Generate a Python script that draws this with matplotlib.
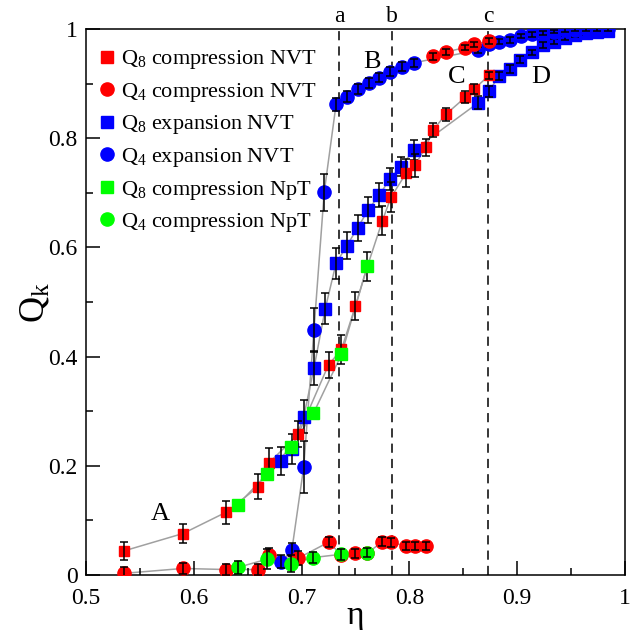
import matplotlib
matplotlib.use('Agg')
import matplotlib.pyplot as plt
from matplotlib.lines import Line2D
from matplotlib.ticker import MultipleLocator, FixedLocator

plt.rcParams['font.family'] = ['Liberation Serif', 'DejaVu Serif']
plt.rcParams['mathtext.fontset'] = 'custom'
plt.rcParams['mathtext.rm'] = 'Liberation Serif'
plt.rcParams['mathtext.it'] = 'Liberation Serif:italic'

# Q8 compression NVT (red squares)
red_sq_eta = [0.535, 0.59, 0.63, 0.66, 0.67, 0.697, 0.725, 0.737, 0.75, 0.761,
              0.775, 0.783, 0.797, 0.805, 0.815, 0.822, 0.834, 0.852, 0.86, 0.874]
red_sq_q   = [0.044, 0.076, 0.115, 0.162, 0.206, 0.258, 0.385, 0.413, 0.493, 0.565,
              0.649, 0.692, 0.736, 0.75, 0.783, 0.815, 0.844, 0.875, 0.89, 0.915]
red_sq_err = [0.016, 0.018, 0.021, 0.023, 0.027, 0.024, 0.024, 0.026, 0.026, 0.026,
              0.026, 0.028, 0.025, 0.021, 0.016, 0.013, 0.012, 0.011, 0.009, 0.007]

# Q4 compression NVT (red circles), low branch and high branch
red_ci_eta = [0.535, 0.59, 0.63, 0.66, 0.67, 0.697, 0.725, 0.737, 0.75, 0.761,
              0.775, 0.783, 0.797, 0.805, 0.815]
red_ci_q   = [0.003, 0.012, 0.010, 0.010, 0.037, 0.031, 0.060, 0.037, 0.040, 0.040,
              0.061, 0.060, 0.053, 0.053, 0.053]
red_ci_err = [0.012, 0.010, 0.010, 0.010, 0.012, 0.013, 0.009, 0.009, 0.008, 0.008,
              0.008, 0.008, 0.007, 0.007, 0.007]
red_hi_eta = [0.822, 0.834, 0.852, 0.86, 0.874]
red_hi_q   = [0.950, 0.958, 0.966, 0.972, 0.978]
red_hi_err = [0.006, 0.006, 0.005, 0.005, 0.005]

# Q8 expansion NVT (blue squares)
blue_sq_eta = [0.681, 0.691, 0.702, 0.7115, 0.722, 0.732, 0.742, 0.752, 0.762, 0.772,
               0.782, 0.792, 0.804, 0.864, 0.874, 0.883, 0.893, 0.903, 0.914, 0.924,
               0.934, 0.944, 0.954, 0.964, 0.974, 0.984]
blue_sq_q   = [0.209, 0.231, 0.290, 0.379, 0.488, 0.571, 0.603, 0.636, 0.669, 0.696,
               0.725, 0.748, 0.778, 0.865, 0.886, 0.914, 0.927, 0.944, 0.957, 0.971,
               0.977, 0.983, 0.989, 0.992, 0.994, 0.996]
blue_sq_err = [0.025, 0.028, 0.030, 0.031, 0.029, 0.028, 0.025, 0.024, 0.024, 0.022,
               0.020, 0.018, 0.018, 0.012, 0.010, 0.008, 0.007, 0.006, 0.005, 0.005,
               0.004, 0.004, 0.003, 0.003, 0.003, 0.003]

# Q4 expansion NVT (blue circles)
blue_ci_eta = [0.681, 0.691, 0.702, 0.7115, 0.721, 0.732, 0.742, 0.7525, 0.7625, 0.772,
               0.782, 0.793, 0.804, 0.864, 0.874, 0.8834, 0.893, 0.9035, 0.9134, 0.924,
               0.934, 0.944, 0.954, 0.964, 0.974, 0.984]
blue_ci_q   = [0.024, 0.046, 0.198, 0.449, 0.701, 0.862, 0.876, 0.890, 0.9005, 0.911,
               0.922, 0.931, 0.938, 0.9615, 0.972, 0.977, 0.980, 0.987, 0.990, 0.993,
               0.995, 0.998, 0.999, 1.0, 1.0, 1.0]
blue_ci_err = [0.012, 0.012, 0.047, 0.040, 0.034, 0.012, 0.010, 0.009, 0.009, 0.008,
               0.008, 0.008, 0.007, 0.006, 0.005, 0.005, 0.005, 0.004, 0.004, 0.004,
               0.003, 0.003, 0.003, 0.003, 0.003, 0.003]

# NpT compression (green)
green_eta    = [0.641, 0.668, 0.690, 0.711, 0.737, 0.761]
green_sq_q   = [0.129, 0.185, 0.235, 0.296, 0.404, 0.566]
green_ci_q   = [0.014, 0.029, 0.021, 0.032, 0.038, 0.041]
green_ci_err = [0.012, 0.018, 0.016, 0.010, 0.010, 0.008]

vlines_eta   = [0.735, 0.784, 0.873]
vline_labels = ['a', 'b', 'c']
region_labels = ['A', 'B', 'C', 'D']
region_eta    = [0.569, 0.765, 0.844, 0.922]
region_q      = [0.112, 0.94, 0.912, 0.912]

RED, BLUE, GREEN = '#ff0000', '#0000ff', '#00ff00'
LINE = '#a0a0a0'

fig = plt.figure(figsize=(6.3, 6.3), dpi=100)
ax = fig.add_axes([0.1365, 0.0873, 0.8555, 0.8667])

# connecting lines
for xs, ys in [(red_sq_eta, red_sq_q), (red_ci_eta, red_ci_q), (red_hi_eta, red_hi_q),
               (blue_sq_eta, blue_sq_q), (blue_ci_eta, blue_ci_q),
               (green_eta, green_sq_q), (green_eta, green_ci_q)]:
    ax.plot(xs, ys, color=LINE, lw=1.1, zorder=1)

for x in vlines_eta:
    ax.axvline(x, color='k', lw=1.1, ls=(0, (6, 4)), zorder=1.5)

series = [
    (blue_sq_eta, blue_sq_q, blue_sq_err, 's', BLUE, 8),
    (blue_ci_eta, blue_ci_q, blue_ci_err, 'o', BLUE, 9.5),
    (red_sq_eta, red_sq_q, red_sq_err, 's', RED, 7.5),
    (red_ci_eta, red_ci_q, red_ci_err, 'o', RED, 9.5),
    (red_hi_eta, red_hi_q, red_hi_err, 'o', RED, 9.5),
    (green_eta, green_sq_q, None, 's', GREEN, 8),
    (green_eta, green_ci_q, green_ci_err, 'o', GREEN, 9.5),
]
z = 2
for xs, ys, err, m, c, ms in series:
    ax.plot(xs, ys, ls='none', marker=m, ms=ms, mfc=c, mec=c, zorder=z)
    if err is not None:
        ax.errorbar(xs, ys, yerr=err, fmt='none', ecolor='k', elinewidth=1.1,
                    capsize=3, capthick=1.1, zorder=z + 0.5)
    z += 1

ax.set_xlim(0.5, 1.0)
ax.set_ylim(0, 1.0)
ax.xaxis.set_major_locator(FixedLocator([0.5, 0.6, 0.7, 0.8, 0.9, 1.0]))
ax.set_xticklabels(['0.5', '0.6', '0.7', '0.8', '0.9', '1'])
ax.yaxis.set_major_locator(FixedLocator([0, 0.2, 0.4, 0.6, 0.8, 1.0]))
ax.set_yticklabels(['0', '0.2', '0.4', '0.6', '0.8', '1'])
ax.xaxis.set_minor_locator(MultipleLocator(0.05))
ax.yaxis.set_minor_locator(MultipleLocator(0.1))
ax.tick_params(which='both', direction='in', top=False, right=False,
               labelsize=17, width=1.1)
ax.tick_params(which='major', length=10)
ax.tick_params(which='minor', length=5)
ax.tick_params(axis='x', pad=9)
ax.tick_params(axis='y', pad=6)
for s in ax.spines.values():
    s.set_linewidth(1.1)

ax.set_xlabel('η', fontsize=24, labelpad=-6)
ax.set_ylabel(r'Q$_{\mathrm{k}}$', fontsize=26, labelpad=-2)

for x, t in zip(vlines_eta, vline_labels):
    ax.text(x, 1.003, t, ha='center', va='bottom', fontsize=17,
            transform=ax.get_xaxis_transform())
for t, x, y in zip(region_labels, region_eta, region_q):
    ax.text(x, y, t, ha='center', va='center', fontsize=19)

handles = [
    Line2D([], [], ls='none', marker='s', ms=8, mfc=RED, mec=RED),
    Line2D([], [], ls='none', marker='o', ms=9.5, mfc=RED, mec=RED),
    Line2D([], [], ls='none', marker='s', ms=8, mfc=BLUE, mec=BLUE),
    Line2D([], [], ls='none', marker='o', ms=9.5, mfc=BLUE, mec=BLUE),
    Line2D([], [], ls='none', marker='s', ms=8, mfc=GREEN, mec=GREEN),
    Line2D([], [], ls='none', marker='o', ms=9.5, mfc=GREEN, mec=GREEN),
]
labels = [r'Q$_{\mathrm{8}}$ compression NVT', r'Q$_{\mathrm{4}}$ compression NVT',
          r'Q$_{\mathrm{8}}$ expansion NVT', r'Q$_{\mathrm{4}}$ expansion NVT',
          r'Q$_{\mathrm{8}}$ compression NpT', r'Q$_{\mathrm{4}}$ compression NpT']
ax.legend(handles, labels, loc='upper left', bbox_to_anchor=(-0.005, 0.993),
          frameon=False, fontsize=16, handlelength=0.7, handletextpad=0.3,
          labelspacing=0.43, borderaxespad=0.3)

fig.savefig('out.png', dpi=100)
